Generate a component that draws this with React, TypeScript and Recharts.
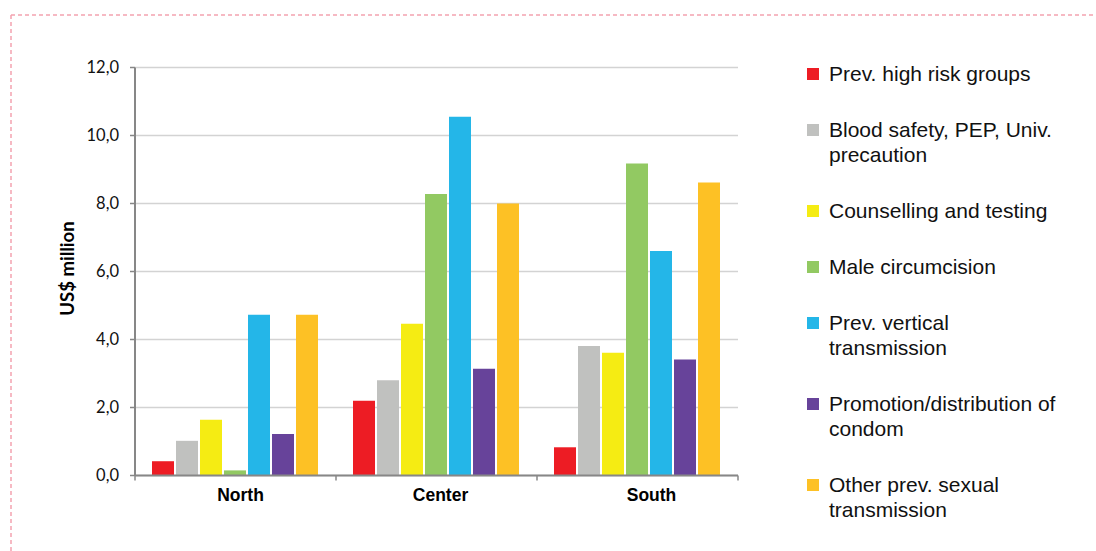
import React from 'react';
import { BarChart, Bar, XAxis, YAxis, CartesianGrid } from 'recharts';

const regions = ['North', 'Center', 'South'];
const seriesNames = [
  'Prev. high risk groups',
  'Blood safety, PEP, Univ. precaution',
  'Counselling and testing',
  'Male circumcision',
  'Prev. vertical transmission',
  'Promotion/distribution of condom',
  'Other prev. sexual transmission',
];
const legendLines = [
  ['Prev. high risk groups'],
  ['Blood safety, PEP, Univ.', 'precaution'],
  ['Counselling and testing'],
  ['Male circumcision'],
  ['Prev. vertical', 'transmission'],
  ['Promotion/distribution of', 'condom'],
  ['Other prev. sexual', 'transmission'],
];
const seriesColors = ['#ED1C24', '#C0C1BF', '#F5EC13', '#92C962', '#24B6E8', '#67439A', '#FDC125'];
const highRisk = [0.42, 2.2, 0.83];
const bloodSafety = [1.02, 2.8, 3.81];
const counselling = [1.64, 4.46, 3.61];
const circumcision = [0.15, 8.28, 9.18];
const vertical = [4.73, 10.55, 6.6];
const condom = [1.22, 3.14, 3.41];
const otherSexual = [4.73, 8.0, 8.62];
const yTicks = [0, 2, 4, 6, 8, 10, 12];

const allSeries = [highRisk, bloodSafety, counselling, circumcision, vertical, condom, otherSexual];
const keys = ['s0', 's1', 's2', 's3', 's4', 's5', 's6'];
const data = regions.map((r, i) => {
  const row: any = { region: r };
  allSeries.forEach((s, j) => { row[keys[j]] = s[i]; });
  return row;
});

const W = 1096;
const H = 551;
const margin = { top: 67.5, right: 358, bottom: 45.5, left: 75 };
const yAxisWidth = 60;
const plotWidth = W - margin.left - margin.right - yAxisWidth;
const band = plotWidth / regions.length;
const xLabelShift = [5, 4, 14];

const XTick = (props: any) => {
  const { x, y, payload, index } = props;
  const half = band / 2;
  return (
    <g>
      <line x1={x - half} y1={y - 8} x2={x - half} y2={y - 3} stroke="#878787" strokeWidth={1.5} />
      {index === regions.length - 1 && (
        <line x1={x + half} y1={y - 8} x2={x + half} y2={y - 3} stroke="#878787" strokeWidth={1.5} />
      )}
      <text x={x + (xLabelShift[index] || 0)} y={y + 17} textAnchor="middle" fontFamily="'Liberation Sans', Arial, sans-serif" fontWeight="bold" fontSize={17.5} fill="#000">
        {payload.value}
      </text>
    </g>
  );
};

const LegendBox = () => (
  <div style={{ position: 'absolute', left: 807, top: 61, width: 285, fontFamily: "'Liberation Sans', Arial, sans-serif", fontSize: 21, color: '#111', lineHeight: '25px' }}>
    {legendLines.map((lines, i) => (
      <div key={i} style={{ position: 'relative', paddingLeft: 22, marginBottom: 31 }}>
        <div style={{ position: 'absolute', left: 0, top: 7, width: 12, height: 12, background: seriesColors[i] }} />
        {lines.map((l, k) => (<div key={k} style={{ whiteSpace: 'nowrap' }}>{l}</div>))}
      </div>
    ))}
  </div>
);

export default function App() {
  return (
    <div style={{ position: 'absolute', left: 0, top: 0, width: W, height: H, background: '#fff' }}>
      <svg width={W} height={H} style={{ position: 'absolute', left: 0, top: 0 }}>
        <line x1={11} y1={15} x2={W} y2={15} stroke="#F4A3B0" strokeWidth={1.5} strokeDasharray="4 3" />
        <line x1={11} y1={15} x2={11} y2={H} stroke="#F4A3B0" strokeWidth={1.5} strokeDasharray="4 3" />
      </svg>
      <div style={{ position: 'absolute', left: 0, top: 0 }}>
        <BarChart width={W} height={H} data={data} margin={margin} barCategoryGap={17} barGap={2}>
          <CartesianGrid vertical={false} stroke="#D3D3D3" strokeWidth={1.5} />
          <XAxis
            dataKey="region"
            axisLine={{ stroke: '#878787', strokeWidth: 2 }}
            tickLine={false}
            tick={<XTick />}
            height={30}
            interval={0}
          />
          <YAxis
            width={yAxisWidth}
            domain={[0, 12]}
            ticks={yTicks}
            interval={0}
            tickFormatter={(v: number) => v.toFixed(1).replace('.', ',')}
            axisLine={{ stroke: '#878787', strokeWidth: 2 }}
            tickLine={{ stroke: '#878787', strokeWidth: 1.5 }}
            tickSize={5}
            tickMargin={11}
            tick={{ fontFamily: 'Lato, sans-serif', fontSize: 16.5, fill: '#111' }}
            label={(p: any) => {
              const vb = p.viewBox;
              const cx = vb.x - 8;
              const cy = vb.y + vb.height / 2 - 3;
              return (
                <text x={cx} y={cy} transform={`rotate(-90 ${cx} ${cy})`} textAnchor="middle" dominantBaseline="central" fontFamily="Lato, sans-serif" fontWeight="bold" fontSize={18.5} fill="#000">
                  US$ million
                </text>
              );
            }}
          />
          {keys.map((k, i) => (
            <Bar key={k} dataKey={k} name={seriesNames[i]} fill={seriesColors[i]} isAnimationActive={false} />
          ))}
        </BarChart>
      </div>
      <LegendBox />
    </div>
  );
}
